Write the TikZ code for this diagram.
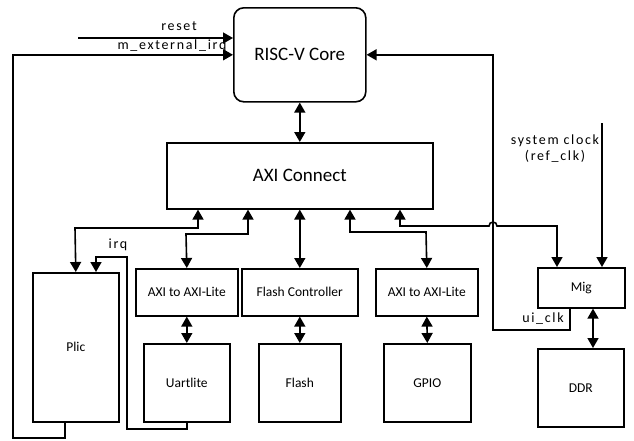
\documentclass[tikz,border=0pt]{standalone}
\usepackage{fontspec}
\setmainfont{Carlito}
\newfontfamily\spacedfont[LetterSpace=12]{Carlito}
\usetikzlibrary{arrows.meta}
\tikzset{
  box/.style={draw, line width=1.6pt, anchor=north west, inner sep=0pt, font=\fontsize{13.5}{15}\selectfont},
  bigbox/.style={box, font=\fontsize{19}{21}\selectfont},
  conn/.style={line width=1.6pt},
  arr/.style={conn, -{Triangle[width=11pt,length=10pt]}},
  bi/.style={conn, {Triangle[width=11pt,length=10pt]}-{Triangle[width=11pt,length=10pt]}},
  sig/.style={font=\spacedfont\fontsize{14}{16}\selectfont, inner sep=0pt}
}
\begin{document}
\begin{tikzpicture}[x=1pt,y=-1pt]
\useasboundingbox (0,0) rectangle (634,440);
% boxes
\node[bigbox, rounded corners=10pt, minimum width=132pt, minimum height=94pt] (core) at (233,7) {RISC-V Core};
\node[bigbox, minimum width=266pt, minimum height=66pt] (axi) at (166,142) {AXI Connect};
\node[box, minimum width=86pt, minimum height=149pt] (plic) at (32,272) {Plic};
\node[box, minimum width=102pt, minimum height=47pt] (a2l1) at (135,268) {AXI to AXI-Lite};
\node[box, minimum width=116pt, minimum height=47pt] (fc) at (241,268) {Flash Controller};
\node[box, minimum width=102pt, minimum height=47pt] (a2l2) at (375,268) {AXI to AXI-Lite};
\node[box, minimum width=87pt, minimum height=40pt] (mig) at (537,267) {Mig};
\node[box, minimum width=86pt, minimum height=78pt] (uart) at (143,343) {Uartlite};
\node[box, minimum width=82pt, minimum height=78pt] (flash) at (258,343) {Flash};
\node[box, minimum width=87pt, minimum height=78pt] (gpio) at (383,343) {GPIO};
\node[box, minimum width=86pt, minimum height=78pt] (ddr) at (537,348) {DDR};
% column coordinates
\coordinate (c1) at (198,0);
\coordinate (c2) at (248,0);
\coordinate (c4) at (350,0);
\coordinate (c5) at (400,0);
\coordinate (m1) at (557,0);
\coordinate (u1) at (570,0);
\coordinate (d1) at (593,0);
\coordinate (p1) at (65,0);
\coordinate (p2) at (96,0);
\coordinate (rs) at (78,38);
\coordinate (sc) at (602,123);
% connectors
\draw[bi] (core.south) -- (axi.north);
\draw[bi] (axi.south -| c1) |- (75,228) -- (plic.north);
\draw[bi] (axi.south -| c2) |- (186,234) -- (a2l1.north);
\draw[bi] (axi.south) -- (fc.north);
\draw[bi] (axi.south -| c4) |- (426,232) -- (a2l2.north);
\draw[bi] (axi.south -| c5) |- (489,226) arc[start angle=180, end angle=0, radius=4pt] -| (mig.north -| m1);
\draw[bi] (a2l1.south) -- (uart.north);
\draw[bi] (fc.south) -- (flash.north);
\draw[bi] (a2l2.south) -- (gpio.north);
\draw[bi] (mig.south -| d1) -- (ddr.north -| d1);
\draw[arr] (sc) -- (mig.north -| sc);
\draw[arr] (mig.south -| u1) |- (493,330) |- (core.east);
\draw[arr] (rs) -- (rs -| core.west);
\draw[arr] (plic.south -| p1) |- (13,438) |- (core.west);
\draw[arr] (uart.south) |- (127,429) |- (96,257) -- (plic.north -| p2);
% labels
\node[sig] (lreset) at (179,26) {reset};
\node[sig] (lirq) at (172,46) {m\_external\_irq};
\node[sig] (lirq2) at (118,245) {irq};
\node[sig, align=center] (lclk) at (555,149) {system clock\\(ref\_clk)};
\node[sig] (lui) at (543,319) {ui\_clk};
\end{tikzpicture}
\end{document}
